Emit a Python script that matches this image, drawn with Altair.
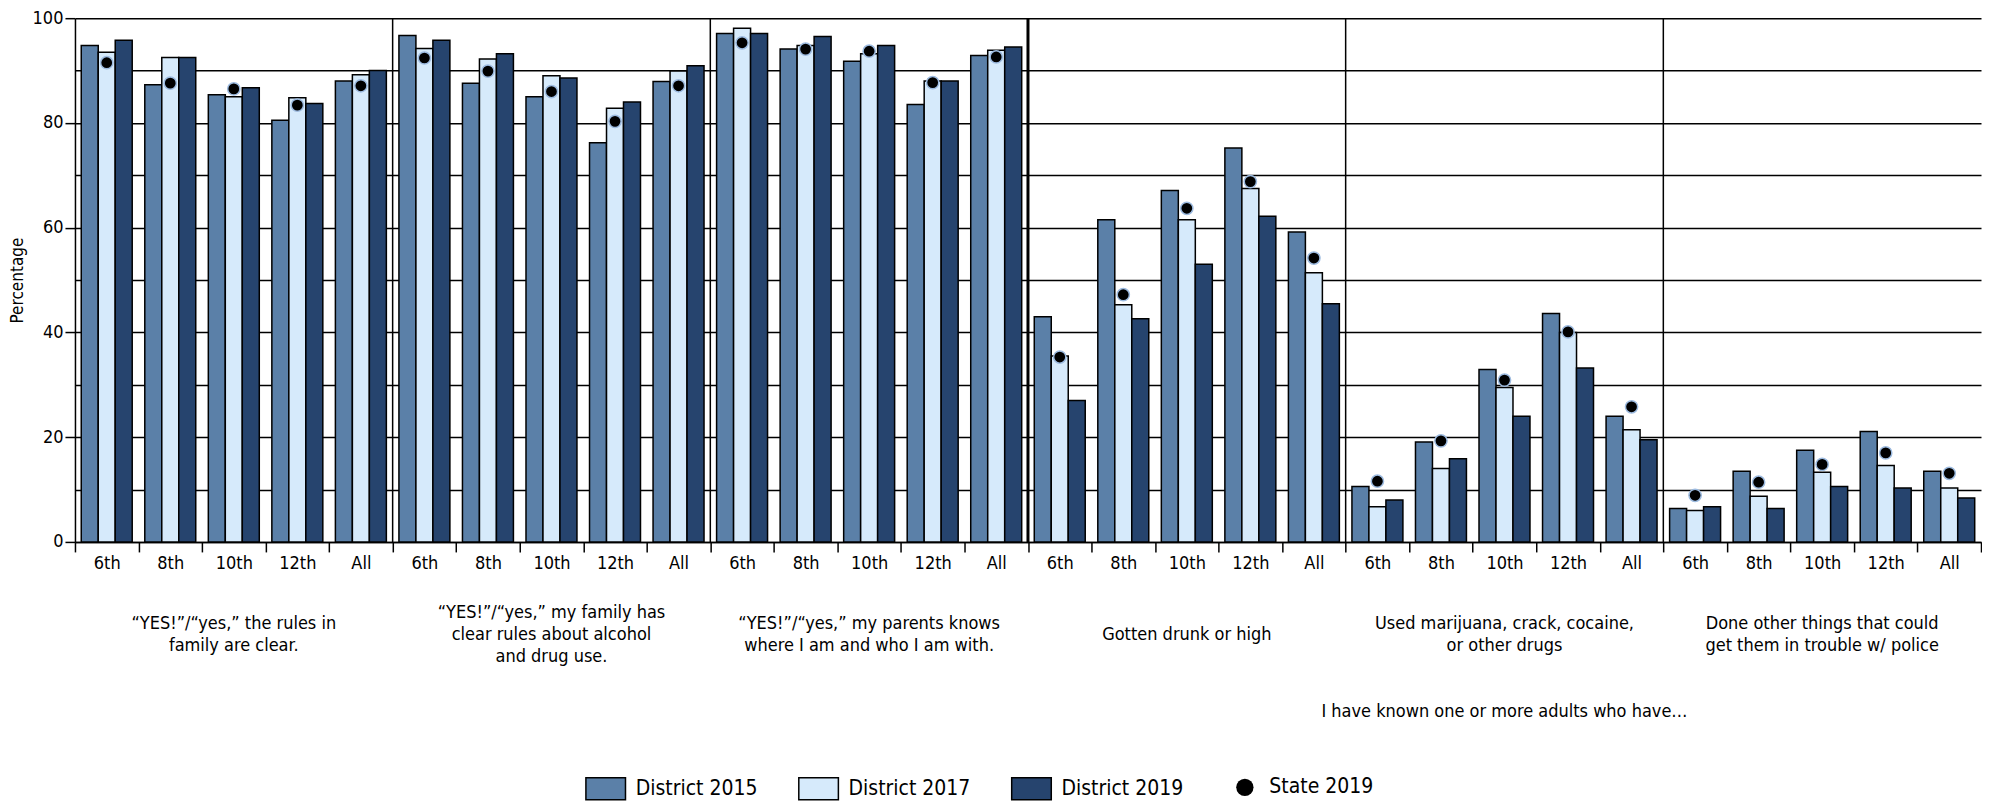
import altair as alt
import pandas as pd

FONT = "Liberation Sans Narrow, DejaVu Sans Condensed, DejaVu Sans, sans-serif"

groups = [
    "“YES!”/“yes,” the rules in\nfamily are clear.",
    "“YES!”/“yes,” my family has\nclear rules about alcohol\nand drug use.",
    "“YES!”/“yes,” my parents knows\nwhere I am and who I am with.",
    "Gotten drunk or high",
    "Used marijuana, crack, cocaine,\nor other drugs",
    "Done other things that could\nget them in trouble w/ police",
]
grades = ["6th", "8th", "10th", "12th", "All"]
series = ["District 2015", "District 2017", "District 2019"]
colors = ["#5B80A8", "#D6EAFB", "#26446E"]
state_label = "State 2019"
note = "I have known one or more adults who have…"

d2015 = [94.8, 87.3, 85.4, 80.5, 88.0,
         96.7, 87.6, 85.0, 76.2, 87.9,
         97.1, 94.1, 91.8, 83.5, 92.9,
         43.0, 61.5, 67.1, 75.2, 59.2,
         10.6, 19.1, 32.9, 43.6, 24.0,
         6.4, 13.5, 17.5, 21.1, 13.5]
d2017 = [93.5, 92.5, 85.0, 84.8, 89.2,
         94.2, 92.2, 89.0, 82.8, 89.9,
         98.1, 94.8, 93.2, 88.0, 93.9,
         35.5, 45.3, 61.5, 67.5, 51.4,
         6.7, 14.0, 29.5, 40.0, 21.4,
         6.0, 8.7, 13.3, 14.6, 10.3]
d2019 = [95.8, 92.5, 86.7, 83.7, 90.0,
         95.8, 93.2, 88.6, 84.0, 90.9,
         97.1, 96.5, 94.8, 88.0, 94.5,
         27.0, 42.6, 53.0, 62.2, 45.5,
         8.0, 15.9, 24.0, 33.2, 19.5,
         6.7, 6.4, 10.6, 10.3, 8.4]
state2019 = [91.5, 87.6, 86.5, 83.4, 87.1,
             92.4, 89.9, 86.0, 80.3, 87.1,
             95.3, 94.1, 93.7, 87.7, 92.6,
             35.3, 47.2, 63.7, 68.8, 54.2,
             11.6, 19.3, 30.9, 40.1, 25.8,
             8.9, 11.4, 14.8, 17.0, 13.1]

W = 1907
H = 524
LINE_H = 22
LABEL_CENTER = 617  # vertical centre of the category captions, px below plot top

keys = [f"{gi}|{g}" for gi in range(len(groups)) for g in grades]

bar_rows = []
for i, k in enumerate(keys):
    for s, vals in zip(series, [d2015, d2017, d2019]):
        bar_rows.append({"key": k, "series": s, "value": vals[i]})
bars_df = pd.DataFrame(bar_rows)

pts_df = pd.DataFrame({"key": keys, "value": state2019, "slabel": state_label})

sep_df = pd.DataFrame({
    "key": [f"{gi}|{grades[0]}" for gi in range(1, len(groups))],
    "w": [1.5, 1.5, 3.0, 1.5, 1.5],
})

lab_df = pd.DataFrame({
    "key": [f"{gi}|{grades[2]}" for gi in range(len(groups))],
    "label": groups,
    "ypos": [LABEL_CENTER - (g.count("\n")) * LINE_H / 2 for g in groups],
})
note_df = pd.DataFrame({"key": [f"4|{grades[2]}"], "label": [note]})

xscale = alt.Scale(paddingInner=0, paddingOuter=0)

x_axis = alt.Axis(
    title=None,
    labelExpr="split(datum.label, '|')[1]",
    labelAngle=0,
    labelFontSize=18,
    labelColor="black",
    labelPadding=3,
    tickBand="extent",
    tickSize=10,
    tickColor="black",
    tickWidth=1.5,
    domainColor="black",
    domainWidth=1.5,
    grid=False,
)

y_axis = alt.Axis(
    title="Percentage",
    titleFontSize=17,
    titleFontWeight="normal",
    titleColor="black",
    titlePadding=6,
    values=list(range(0, 101, 10)),
    labelExpr="datum.value % 20 == 0 ? datum.label : ''",
    labelFontSize=18,
    labelColor="black",
    labelPadding=2,
    tickSize=10,
    tickColor="black",
    tickWidth=1.5,
    tickOpacity={"condition": {"test": "datum.value % 20 != 0", "value": 0}, "value": 1},
    domainColor="black",
    domainWidth=1.5,
    grid=True,
    gridColor="black",
    gridWidth=1.5,
    gridOpacity=1,
)

base = alt.Chart(bars_df)

bars = base.mark_bar(stroke="black", strokeWidth=1.5).encode(
    x=alt.X("key:N", sort=keys, scale=xscale, axis=x_axis),
    xOffset=alt.XOffset("series:N", sort=series,
                        scale=alt.Scale(paddingInner=0, paddingOuter=0.37)),
    y=alt.Y("value:Q", scale=alt.Scale(domain=[0, 100], nice=False), axis=y_axis),
    color=alt.Color(
        "series:N",
        scale=alt.Scale(domain=series, range=colors),
        legend=alt.Legend(
            title=None,
            orient="none",
            direction="horizontal",
            legendX=519,
            legendY=759,
            symbolType="M-1.8,-1H1.8V1H-1.8Z",
            symbolSize=484,
            symbolStrokeColor="black",
            symbolStrokeWidth=1.5,
            symbolOpacity=1,
            labelFontSize=21,
            labelColor="black",
            labelOffset=18,
            columnPadding=38,
        ),
    ),
)

seps = alt.Chart(sep_df).mark_rule(color="black").encode(
    x=alt.X("key:N", sort=keys, scale=xscale, bandPosition=0),
    y=alt.value(0),
    y2=alt.value(H),
    strokeWidth=alt.StrokeWidth("w:Q", scale=None, legend=None),
)

pts = alt.Chart(pts_df).mark_point(
    filled=True, size=150, color="black", stroke="#9DBBE0", strokeWidth=1.5, opacity=1
).encode(
    x=alt.X("key:N", sort=keys, scale=xscale),
    y=alt.Y("value:Q"),
    shape=alt.Shape(
        "slabel:N",
        scale=alt.Scale(domain=[state_label], range=["circle"]),
        legend=alt.Legend(
            title=None,
            orient="none",
            legendX=1160,
            legendY=759,
            symbolSize=300,
            symbolFillColor="black",
            symbolStrokeColor="#9DBBE0",
            symbolStrokeWidth=1.5,
            symbolOpacity=1,
            labelFontSize=21,
            labelColor="black",
            labelOffset=14,
        ),
    ),
)

labels = alt.Chart(lab_df).mark_text(
    font=FONT, fontSize=18, color="black", lineBreak="\n", lineHeight=LINE_H,
    align="center", baseline="middle",
).encode(
    x=alt.X("key:N", sort=keys, scale=xscale),
    y=alt.Y("ypos:Q", scale=None),
    text="label:N",
)

note_txt = alt.Chart(note_df).mark_text(
    font=FONT, fontSize=18, color="black", align="center", baseline="middle",
).encode(
    x=alt.X("key:N", sort=keys, scale=xscale),
    y=alt.value(694),
    text="label:N",
)

chart = alt.layer(bars, seps, pts, labels, note_txt).properties(
    width=W, height=H, padding={"left": 0, "top": 1, "right": 0, "bottom": 0}
).configure(font=FONT).configure_view(stroke=None)

chart.save("out.html", embed_options={"renderer": "svg", "actions": False})
